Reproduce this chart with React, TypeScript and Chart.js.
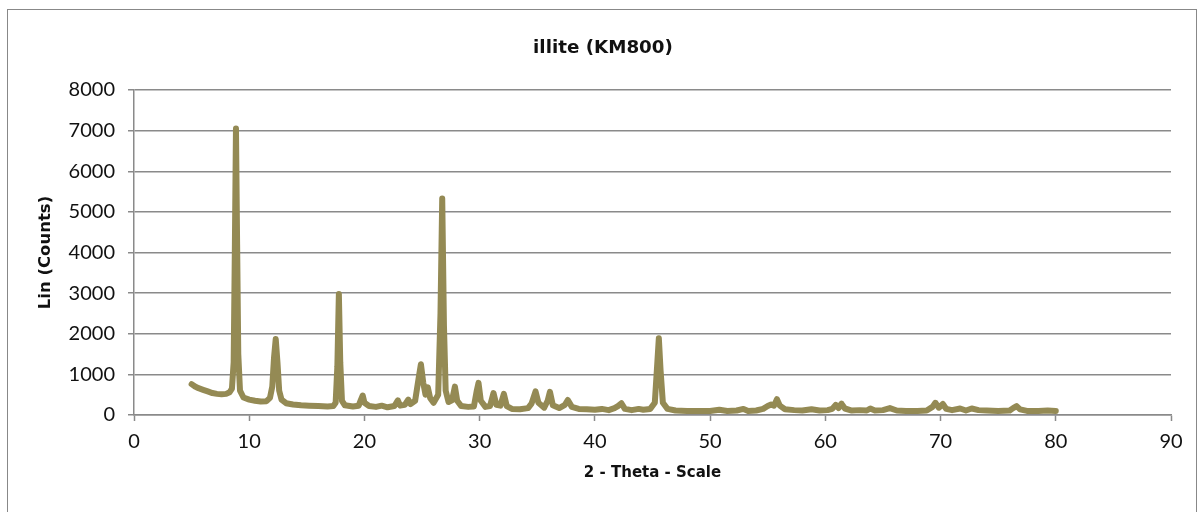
import React, { useEffect, useRef } from "react";
import { Chart, registerables } from "chart.js";

Chart.register(...registerables);

const chartTitle = "illite (KM800)";
const xAxisTitle = "2 - Theta - Scale";
const yAxisTitle = "Lin (Counts)";

const xAxisRange = [0, 90];
const xTickStep = 10;
const yAxisRange = [0, 8000];
const yTickStep = 1000;

// 2-theta angles (degrees)
const twoTheta = [
  5.0, 5.3, 5.6, 6.0, 6.4, 6.8, 7.2, 7.6, 8.0, 8.3, 8.5, 8.65, 8.75, 8.85, 8.95, 9.05, 9.2, 9.5,
  10.0, 10.5, 11.0, 11.5, 11.8, 12.0, 12.15, 12.3, 12.45, 12.6, 12.8, 13.2, 13.8, 14.5, 15.2, 16.0,
  16.8, 17.3, 17.5, 17.65, 17.78, 17.9, 18.05, 18.3, 19.0, 19.5, 19.7, 19.85, 20.0, 20.4, 21.0, 21.5,
  22.0, 22.6, 22.9, 23.1, 23.5, 23.8, 24.0, 24.4, 24.7, 24.9, 25.1, 25.3, 25.5, 25.7, 26.0, 26.4,
  26.6, 26.75, 26.9, 27.05, 27.3, 27.6, 27.85, 28.05, 28.4, 29.0, 29.5, 29.75, 29.9, 30.1, 30.5, 30.9,
  31.2, 31.45, 31.8, 32.1, 32.35, 32.8, 33.5, 34.2, 34.5, 34.85, 35.1, 35.6, 35.9, 36.1, 36.35, 36.9,
  37.4, 37.65, 38.0, 38.6, 39.3, 40.0, 40.6, 41.2, 41.7, 42.0, 42.3, 42.6, 43.2, 43.8, 44.2, 44.8,
  45.2, 45.4, 45.55, 45.7, 45.9, 46.3, 47.0, 48.0, 49.0, 50.0, 50.8, 51.5, 52.3, 52.9, 53.3, 54.0,
  54.6, 55.0, 55.3, 55.55, 55.8, 56.05, 56.5, 57.3, 58.0, 58.8, 59.5, 60.2, 60.6, 60.9, 61.15, 61.4,
  61.7, 62.3, 63.0, 63.6, 63.9, 64.3, 65.0, 65.6, 66.2, 67.0, 68.0, 68.8, 69.3, 69.55, 69.85, 70.2,
  70.5, 71.0, 71.7, 72.2, 72.7, 73.3, 74.0, 75.0, 76.0, 76.3, 76.6, 76.9, 77.5, 78.5, 79.3, 80.0,
];

// intensity (counts)
const counts = [
  760, 700, 660, 620, 580, 540, 520, 510, 520, 560, 650, 1300, 4000, 7050, 4200, 1500, 600, 430,
  380, 350, 330, 340, 420, 700, 1400, 1870, 1300, 600, 380, 290, 260, 240, 230, 220,
  210, 220, 300, 1200, 2980, 1300, 350, 240, 210, 230, 380, 480, 300, 220, 200, 230,
  190, 220, 360, 230, 250, 380, 270, 350, 900, 1250, 800, 500, 680, 420, 300, 500,
  2500, 5330, 2200, 600, 320, 360, 700, 350, 220, 200, 210, 600, 790, 350, 200, 220,
  540, 250, 230, 520, 220, 150, 140, 170, 280, 580, 300, 180, 350, 570, 240, 170,
  250, 370, 200, 150, 140, 130, 150, 120, 170, 220, 290, 150, 120, 150, 130, 150,
  300, 1200, 1890, 1100, 300, 150, 110, 100, 100, 100, 130, 100, 110, 150, 100, 110,
  150, 220, 260, 230, 390, 230, 140, 120, 110, 140, 110, 120, 150, 250, 170, 280,
  160, 110, 120, 110, 160, 110, 120, 170, 110, 100, 100, 110, 200, 300, 180, 270,
  150, 120, 160, 110, 160, 120, 110, 100, 110, 170, 220, 140, 100, 100, 110, 100,
];

const lineColor = "#948A54";
const gridColor = "#8A8A8A";
const textColor = "#111111";
const tickFont = "Lato, 'DejaVu Sans', sans-serif";
const titleFont = "'DejaVu Sans', sans-serif";

const borderPlugin = {
  id: "outerBorder",
  beforeDraw(chart: any) {
    const ctx = chart.ctx;
    ctx.save();
    ctx.fillStyle = "#ffffff";
    ctx.fillRect(0, 0, chart.width, chart.height);
    ctx.strokeStyle = "#888888";
    ctx.lineWidth = 1;
    ctx.strokeRect(7.5, 9.5, 1189, 700);
    ctx.restore();
  },
};

export default function App() {
  const canvasRef = useRef<HTMLCanvasElement | null>(null);

  useEffect(() => {
    if (!canvasRef.current) return;
    const points = twoTheta.map((t, i) => ({ x: t, y: counts[i] }));
    const chart = new Chart(canvasRef.current, {
      type: "line",
      data: {
        datasets: [
          {
            label: chartTitle,
            data: points,
            borderColor: lineColor,
            backgroundColor: lineColor,
            borderWidth: 6,
            borderJoinStyle: "round",
            borderCapStyle: "round",
            pointRadius: 0,
            tension: 0,
            fill: false,
          },
        ],
      },
      options: {
        animation: false,
        responsive: false,
        layout: { padding: { left: 35, right: 33, top: 0, bottom: 0 } },
        plugins: {
          legend: { display: false },
          tooltip: { enabled: false },
          title: {
            display: true,
            text: chartTitle,
            color: textColor,
            font: { family: titleFont, size: 18.3, weight: "bold", lineHeight: 1.2 },
            padding: { top: 37, bottom: 31.04 },
          },
        },
        scales: {
          x: {
            type: "linear",
            min: xAxisRange[0],
            max: xAxisRange[1],
            afterFit: (scale: any) => {
              scale.height = 97;
            },
            ticks: {
              stepSize: xTickStep,
              color: textColor,
              font: { family: tickFont, size: 20 },
              padding: 9,
              maxRotation: 0,
              callback: (v: any) => String(v),
            },
            grid: {
              drawOnChartArea: false,
              drawTicks: true,
              tickLength: 6,
              tickColor: gridColor,
              tickWidth: 1.5,
            },
            border: { display: true, color: gridColor, width: 1.5 },
            title: {
              display: true,
              text: xAxisTitle,
              color: textColor,
              font: { family: titleFont, size: 15, weight: "bold", lineHeight: 1.2 },
              padding: { top: 0, bottom: 30 },
            },
          },
          y: {
            type: "linear",
            min: yAxisRange[0],
            max: yAxisRange[1],
            afterFit: (scale: any) => {
              scale.width = 99;
            },
            ticks: {
              stepSize: yTickStep,
              color: textColor,
              font: { family: tickFont, size: 20 },
              padding: 13,
              callback: (v: any) => String(v),
            },
            grid: {
              color: gridColor,
              lineWidth: 1.5,
              drawTicks: true,
              tickLength: 6,
              tickColor: gridColor,
            },
            border: { display: true, color: gridColor, width: 1.5 },
            title: {
              display: true,
              text: yAxisTitle,
              color: textColor,
              font: { family: titleFont, size: 16.5, weight: "bold", lineHeight: 1.2 },
              padding: { top: 1, bottom: 0 },
            },
          },
        },
      },
      plugins: [borderPlugin],
    });
    return () => chart.destroy();
  }, []);

  return (
    <div style={{ position: "absolute", left: 0, top: 0, width: 1204, height: 512 }}>
      <canvas ref={canvasRef} width={1204} height={512} style={{ display: "block" }} />
    </div>
  );
}
